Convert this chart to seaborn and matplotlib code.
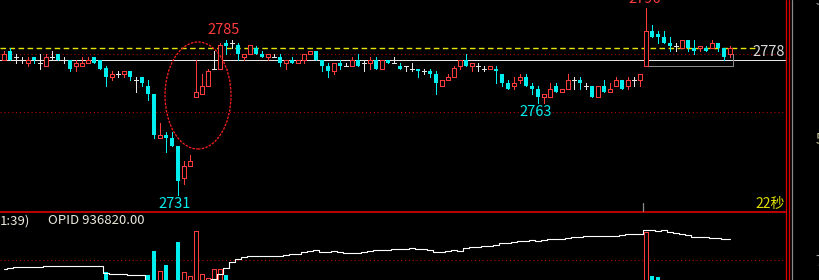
import matplotlib
matplotlib.use("Agg")
import matplotlib.pyplot as plt
from matplotlib.lines import Line2D
from matplotlib.patches import Ellipse
import numpy as np
import pandas as pd
import seaborn as sns

# ---------------- data ----------------
opens = [2778, 2781, 2779, 2778, 2777, 2779, 2777, 2776, 2779, 2780,
         2778, 2778, 2776, 2776, 2777, 2779, 2778, 2775, 2772, 2773,
         2773, 2774, 2771, 2772, 2769, 2766, 2751, 2752, 2751, 2748,
         2737, 2741, 2765, 2766, 2769, 2775, 2775, 2784, 2784, 2783,
         2779, 2780, 2782, 2780, 2779, 2779, 2779, 2777, 2778, 2777,
         2778, 2780, 2781, 2778, 2776, 2774, 2777, 2776, 2776, 2778,
         2777, 2777, 2778, 2775, 2778, 2777, 2776, 2776, 2775, 2775,
         2774, 2774, 2773, 2769, 2771, 2772, 2776, 2778, 2776, 2776,
         2775, 2775, 2775, 2773, 2770, 2769, 2771, 2772, 2769, 2768,
         2765, 2765, 2769, 2767, 2768, 2771, 2771, 2769, 2769, 2765,
         2769, 2767, 2769, 2771, 2769, 2771, 2771, 2776, 2788, 2787,
         2786, 2784, 2783, 2782, 2785, 2782, 2782, 2782, 2782, 2784,
         2782, 2780]
highs = [2781, 2782, 2780, 2779, 2779, 2779, 2780, 2780, 2781, 2780,
         2779, 2778, 2778, 2779, 2779, 2779, 2778, 2776, 2774, 2774,
         2774, 2774, 2772, 2772, 2771, 2766, 2756, 2753, 2753, 2748,
         2743, 2745, 2778, 2773, 2775, 2781, 2784, 2785, 2785, 2784,
         2780, 2783, 2783, 2781, 2780, 2780, 2780, 2778, 2779, 2778,
         2780, 2781, 2781, 2778, 2777, 2777, 2778, 2777, 2779, 2780,
         2778, 2779, 2779, 2778, 2778, 2779, 2777, 2776, 2777, 2775,
         2775, 2775, 2774, 2771, 2773, 2776, 2778, 2780, 2777, 2777,
         2776, 2776, 2776, 2773, 2771, 2772, 2773, 2773, 2770, 2769,
         2766, 2770, 2770, 2768, 2773, 2772, 2772, 2770, 2769, 2769,
         2771, 2770, 2772, 2771, 2772, 2772, 2773, 2796, 2790, 2788,
         2788, 2786, 2784, 2785, 2785, 2785, 2783, 2783, 2785, 2784,
         2782, 2783]
lows = [2778, 2778, 2777, 2777, 2776, 2777, 2775, 2776, 2778, 2778,
        2777, 2774, 2774, 2776, 2777, 2777, 2775, 2769, 2771, 2772,
        2772, 2771, 2767, 2769, 2764, 2751, 2751, 2746, 2748, 2731,
        2735, 2741, 2765, 2766, 2769, 2775, 2775, 2780, 2782, 2778,
        2778, 2780, 2780, 2779, 2778, 2779, 2776, 2775, 2777, 2777,
        2777, 2780, 2778, 2774, 2772, 2773, 2775, 2776, 2776, 2776,
        2774, 2775, 2775, 2775, 2777, 2777, 2775, 2774, 2774, 2772,
        2773, 2772, 2766, 2769, 2771, 2772, 2775, 2776, 2774, 2774,
        2774, 2775, 2770, 2769, 2768, 2768, 2770, 2769, 2766, 2763,
        2763, 2765, 2767, 2767, 2768, 2768, 2768, 2768, 2765, 2765,
        2767, 2767, 2769, 2768, 2768, 2769, 2769, 2776, 2786, 2784,
        2784, 2781, 2781, 2782, 2781, 2780, 2781, 2781, 2782, 2781,
        2778, 2779]
closes = [2780, 2778, 2779, 2778, 2778, 2778, 2777, 2779, 2779, 2778,
          2778, 2775, 2777, 2777, 2778, 2777, 2775, 2772, 2773, 2773,
          2774, 2772, 2771, 2770, 2766, 2752, 2752, 2751, 2748, 2736,
          2741, 2743, 2767, 2769, 2774, 2775, 2783, 2783, 2784, 2780,
          2780, 2783, 2780, 2779, 2780, 2779, 2777, 2778, 2777, 2778,
          2780, 2781, 2778, 2776, 2774, 2777, 2776, 2776, 2778, 2776,
          2777, 2778, 2775, 2778, 2777, 2777, 2775, 2776, 2775, 2774,
          2774, 2773, 2770, 2771, 2772, 2775, 2778, 2776, 2777, 2776,
          2775, 2776, 2774, 2770, 2768, 2770, 2772, 2769, 2768, 2765,
          2766, 2768, 2767, 2768, 2771, 2771, 2770, 2769, 2765, 2769,
          2767, 2768, 2771, 2768, 2771, 2771, 2773, 2788, 2786, 2786,
          2784, 2783, 2783, 2785, 2782, 2781, 2783, 2781, 2784, 2782,
          2779, 2782]

# volume bars visible above the lower edge (bar index, volume)
vol_idx = [17, 24, 25, 26, 27, 29, 30, 31, 32, 33, 34, 35, 36, 37, 107, 108, 109]
vol_val = [1400, 1250, 2450, 1450, 1750, 2900, 1400, 1200, 3450, 1300,
           1100, 1550, 1550, 1250, 3400, 1200, 1150]

# open interest per bar
oi = [933900, 934000, 934020, 934020, 934080, 934080, 934080, 934120, 934120, 934120,
      934120, 934120, 934120, 934120, 934120, 934120, 934120, 933450, 933350, 933350,
      933350, 933220, 933220, 933220, 932450, 931750, 931550, 931350, 931150, 930950,
      931150, 931550, 931950, 932350, 932750, 932850, 933350, 933950, 934550, 934900,
      935050, 935150, 935150, 935150, 935150, 935150, 935150, 935250, 935320, 935320,
      935520, 935620, 935720, 935520, 935520, 935620, 935520, 935420, 935420, 935420,
      935520, 935620, 935720, 935720, 935720, 935820, 935820, 935820, 935920, 935820,
      935820, 935720, 935520, 935520, 935620, 935720, 935620, 935920, 936020, 936020,
      936120, 936120, 936220, 936420, 936420, 936520, 936620, 936620, 936720, 936620,
      936720, 936820, 936820, 936820, 936920, 937020, 937020, 937120, 937120, 937120,
      937120, 937120, 937120, 937220, 937320, 937320, 937320, 937720, 937720, 937620,
      937720, 937520, 937420, 937320, 937220, 937020, 937020, 937020, 936920, 936920,
      936820, 936820]

mark_low, mark_high1, mark_low2, mark_high2 = "2731", "2785", "2763", "2796"
last_label = "2778"
timer_label = "22秒"
info_left = "1:39)"
info_opid = "OPID 936820.00"

# ---------------- style ----------------
sns.set_theme(style="dark")
plt.rcParams["font.family"] = ["Liberation Sans Narrow", "Noto Sans CJK SC", "DejaVu Sans"]

W, H = 820, 280
PPU = 2.875            # pixels per price unit
LW1 = 0.72             # one pixel at 100 dpi
def fx(px): return px / W
def fy(py): return 1 - py / H

RED = "#ff3b3b"
CYAN = "#00eeee"
WHITE = "#e6e6e6"
DRED = "#b00000"

fig = plt.figure(figsize=(8.2, 2.8), dpi=100, facecolor="black")

df = pd.DataFrame({"o": opens, "h": highs, "l": lows, "c": closes})
df["i"] = np.arange(len(df))
df["kind"] = np.where(df.c > df.o, "up", np.where(df.c < df.o, "down", "flat"))

xl = ((0 - 4) / 6, (786 - 4) / 6)
ax = fig.add_axes([0, fy(212), 786 / W, 212 / H])
ax.set_xlim(*xl)
ax.set_ylim(2731 + (195 - 212) / PPU, 2731 + 195 / PPU)
ax.set_facecolor("black")
ax.axis("off")

# reference lines
ax.axhline(2780, color=DRED, lw=0.8, ls=(0, (1, 2.5)), zorder=0)
ax.axhline(2760, color=DRED, lw=0.8, ls=(0, (1, 2.5)), zorder=0)
ax.axhline(2778, color=WHITE, lw=LW1, zorder=1, antialiased=False)
ax.axhline(closes[-1], xmax=757 / 786, color="#e6e600", lw=1.0, ls=(0, (4, 2.5)), zorder=1)

colmap = {"up": RED, "down": CYAN, "flat": WHITE}
BW = 0.78
for _, r in df.iterrows():
    ax.vlines(r.i, r.l, r.h, color=colmap[r.kind], lw=LW1, zorder=2, antialiased=False)
up = df[df.kind == "up"]
dn = df[df.kind == "down"]
fl = df[df.kind == "flat"]
ax.bar(up.i, up.c - up.o, bottom=up.o, width=BW, facecolor="black", edgecolor=RED,
       lw=LW1, zorder=3, antialiased=False)
ax.bar(dn.i, dn.o - dn.c, bottom=dn.c, width=BW, color=CYAN, lw=0, zorder=3, antialiased=False)
ax.hlines(fl.o, fl.i - BW / 2, fl.i + BW / 2, color=WHITE, lw=LW1, zorder=3, antialiased=False)

# circled area
ax.add_patch(Ellipse(((198 - 4) / 6, 2731 + (195 - 95.5) / PPU), 66 / 6, 107 / PPU,
                     fill=False, edgecolor="#ff2020", lw=0.9, ls=(0, (2, 1)), zorder=4))
# grey bracket on the last block
ax.plot([107.5, 121.5, 121.5], [2776, 2776, 2780], color="#8a8a8a", lw=LW1, zorder=1,
        antialiased=False)

# price marks
ax.text(28.5, 2731 + (195 - 204) / PPU, mark_low, color=CYAN, ha="center", va="center", fontsize=10.5)
ax.text((224 - 4) / 6, 2731 + (195 - 30.5) / PPU, mark_high1, color=RED, ha="center", va="center", fontsize=10.5)
ax.text((535.5 - 4) / 6, 2731 + (195 - 112) / PPU, mark_low2, color=CYAN, ha="center", va="center", fontsize=10.5)
ax.text((644.5 - 4) / 6, 2731 + (195 + 1) / PPU, mark_high2, color=RED, ha="center", va="center",
        fontsize=10.5, clip_on=False)

# ---------------- lower panel ----------------
axv = fig.add_axes([0, 0, 786 / W, 68 / H])
axv.set_xlim(*xl)
axv.set_ylim(1000, 1000 + 68 * 50)
axv.set_facecolor("black")
axv.axis("off")
axv.axhline(1000 + 20 * 50, color=DRED, lw=0.8, ls=(0, (1, 2.5)), zorder=0)
vcol = ["up" if closes[i] >= opens[i] else "down" for i in vol_idx]
vu = [(i, v) for i, v, k in zip(vol_idx, vol_val, vcol) if k == "up"]
vd = [(i, v) for i, v, k in zip(vol_idx, vol_val, vcol) if k == "down"]
axv.bar([a for a, _ in vu], [b for _, b in vu], width=BW, facecolor="black", edgecolor=RED,
        lw=LW1, zorder=3, antialiased=False)
axv.bar([a for a, _ in vd], [b for _, b in vd], width=BW, color=CYAN, lw=0, zorder=3, antialiased=False)

axo = axv.twinx()
axo.set_xlim(*xl)
axo.set_ylim(936820 - 40.7 * 100, 936820 + 27.3 * 100)
axo.axis("off")
sns.lineplot(x=np.arange(len(oi)), y=oi, ax=axo, color="white", lw=0.8, drawstyle="steps-mid", zorder=5)

# ---------------- frame lines & text ----------------
fig.add_artist(Line2D([0, fx(786)], [fy(212), fy(212)], color="#dd0000", lw=1.2, transform=fig.transFigure))
for xp, c in [(786.5, "#dd0000"), (789.5, "#dd0000"), (792.5, "#8a8a8a")]:
    fig.add_artist(Line2D([fx(xp), fx(xp)], [0, 1], color=c, lw=0.9, transform=fig.transFigure))
fig.add_artist(Line2D([fx(643.5), fx(643.5)], [fy(203), fy(211)], color="#8a8a8a", lw=0.9,
                      transform=fig.transFigure))

fig.text(fx(785), fy(52), last_label, color="#d8d8d8", ha="right", va="center", fontsize=10.5)
fig.text(fx(785), fy(204), timer_label, color="#e0e000", ha="right", va="center", fontsize=10)
fig.text(fx(0), fy(221), info_left, color="#ece8dc", ha="left", va="center", fontsize=9.5)
fig.text(fx(48), fy(221), info_opid, color="#ece8dc", ha="left", va="center", fontsize=9.5)
fig.text(fx(816), fy(1), "5", color="#a0a0a0", ha="left", va="center", fontsize=10)
fig.text(fx(816), fy(140), "5", color="#c8c890", ha="left", va="center", fontsize=10)
fig.text(fx(815), fy(262), "7", color="#a0a0a0", ha="left", va="center", fontsize=10)

fig.savefig("out.png", dpi=100, facecolor="black")
